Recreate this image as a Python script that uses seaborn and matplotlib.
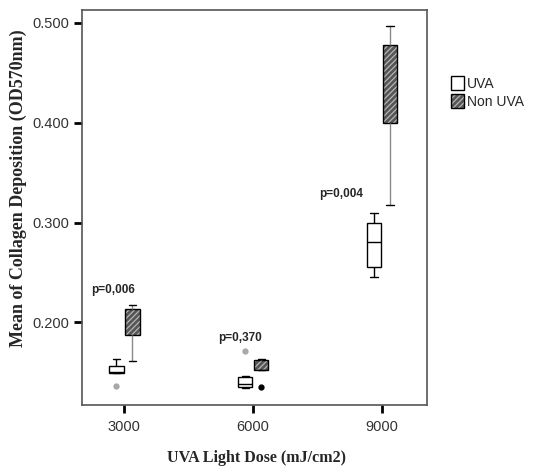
import matplotlib
matplotlib.use("Agg")
import matplotlib.pyplot as plt
import matplotlib.colors as mcolors
import seaborn as sns
import pandas as pd
from matplotlib.patches import Patch

# ── Data (replicate readings, OD570nm) ─────────────────────────────────────
doses = ["3000", "6000", "9000"]
groups = ["UVA", "Non UVA"]

uva_3000 = [0.136, 0.149, 0.149, 0.150, 0.150, 0.153, 0.156, 0.160, 0.163]
non_3000 = [0.161, 0.175, 0.187, 0.192, 0.198, 0.205, 0.213, 0.215, 0.217]
uva_6000 = [0.134, 0.135, 0.135, 0.136, 0.138, 0.141, 0.145, 0.146, 0.171]
non_6000 = [0.135, 0.152, 0.152, 0.155, 0.157, 0.160, 0.162, 0.163, 0.163]
uva_9000 = [0.245, 0.250, 0.255, 0.265, 0.280, 0.290, 0.300, 0.305, 0.310]
non_9000 = [0.318, 0.360, 0.400, 0.420, 0.440, 0.460, 0.478, 0.490, 0.497]

p_labels = ["p=0,006", "p=0,370", "p=0,004"]
p_y = [0.232, 0.184, 0.329]
p_x = [-0.09, 0.90, 1.68]

rows = []
for dose, u, n in zip(doses, [uva_3000, uva_6000, uva_9000],
                      [non_3000, non_6000, non_9000]):
    rows += [{"dose": dose, "group": "UVA", "od": v} for v in u]
    rows += [{"dose": dose, "group": "Non UVA", "od": v} for v in n]
df = pd.DataFrame(rows)

sns.set_style("white")
plt.rcParams["hatch.linewidth"] = 0.9
HATCH_C = mcolors.to_rgba("#b5b5b5")
DARK = "#555555"

fig = plt.figure(figsize=(5.38, 4.69), dpi=100)
ax = fig.add_axes([0.152, 0.136, 0.642, 0.843])

sns.boxplot(data=df, x="dose", y="od", hue="group", hue_order=groups,
            order=doses, width=0.25, gap=0.1,
            palette={"UVA": "white", "Non UVA": DARK},
            linecolor="black", linewidth=1.0, legend=False,
            flierprops=dict(marker="o", markersize=3.5),
            ax=ax)

# hatch the Non UVA boxes with light grey lines
for p in ax.patches:
    if p.get_facecolor()[0] < 0.5:
        p.set_hatch("//////")
        p._hatch_color = HATCH_C

# whisker / median / flier colours: left of the tick = UVA, right = Non UVA
for ln in ax.lines:
    xd = ln.get_xdata()
    yd = ln.get_ydata()
    if len(xd) == 0:
        continue
    xm = sum(xd) / len(xd)
    right = xm > round(xm)
    if ln.get_marker() not in (None, "None", "", " "):
        c = "black" if right else "#a8a8a8"
        ln.set_markerfacecolor(c)
        ln.set_markeredgecolor(c)
    elif right and len(set(xd)) == 1:
        ln.set_color("#8a8a8a")
    elif right and len(set(yd)) == 1 and abs(xd[1] - xd[0]) > 0.08:
        ln.set_visible(False)  # median hidden under the hatch, as in SPSS

for x, y, t in zip(p_x, p_y, p_labels):
    ax.text(x, y, t, ha="center", va="center", fontsize=8.5,
            fontweight="bold", family="Liberation Sans")

ax.set_xlim(-0.33, 2.35)
ax.set_ylim(0.117, 0.513)
ax.set_yticks([0.2, 0.3, 0.4, 0.5])
ax.set_yticklabels(["0.200", "0.300", "0.400", "0.500"])
ax.tick_params(axis="both", direction="out", length=6, width=2,
               color="black", labelsize=10.5, labelcolor="#333333", pad=3,
               bottom=True, left=True)
ax.tick_params(axis="x", pad=5)
for lab in ax.get_xticklabels() + ax.get_yticklabels():
    lab.set_family("Liberation Sans")
for s in ax.spines.values():
    s.set_color("#555555")
    s.set_linewidth(1.2)

ax.set_xlabel("UVA Light Dose (mJ/cm2)", family="Liberation Serif",
              fontweight="bold", fontsize=11.5)
ax.set_ylabel("Mean of Collagen Deposition (OD570nm)",
              family="Liberation Serif", fontweight="bold", fontsize=13)
ax.xaxis.set_label_coords(0.507, -0.134)
ax.yaxis.set_label_coords(-0.185, 0.55)
ax.xaxis.label.set_va("center")
ax.yaxis.label.set_va("center")

handles = [Patch(facecolor="white", edgecolor="black", label="UVA"),
           Patch(facecolor=DARK, edgecolor="black", hatch="//////",
                 label="Non UVA")]
leg = fig.legend(handles=handles, loc="upper left",
                 bbox_to_anchor=(0.826, 0.853), frameon=False,
                 prop={"family": "Liberation Sans", "size": 10},
                 handlelength=0.9, handleheight=1.2, handletextpad=0.25,
                 labelspacing=0.25, borderpad=0)
for p in leg.get_patches():
    if p.get_facecolor()[0] < 0.5:
        p._hatch_color = HATCH_C

fig.savefig("out.png", dpi=100)
